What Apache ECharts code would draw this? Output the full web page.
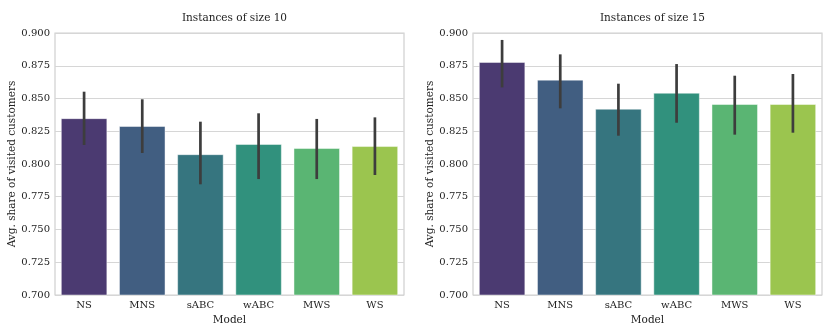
<!DOCTYPE html>
<html>
<head>
<meta charset="utf-8">
<script src="https://cdn.jsdelivr.net/npm/echarts@6/dist/echarts.min.js"></script>
<style>
  html, body { margin: 0; padding: 0; background: #fff; }
  #chart { width: 830px; height: 332px; }
</style>
</head>
<body>
<div id="chart"></div>
<script>
// 数据
var models = ['NS', 'MNS', 'sABC', 'wABC', 'MWS', 'WS'];
var titles = ['Instances of size 10', 'Instances of size 15'];
var yTicks = [0.700, 0.725, 0.750, 0.775, 0.800, 0.825, 0.850, 0.875, 0.900];
var barColors = ['#4b3a71', '#415e81', '#36757f', '#31917d', '#5ab573', '#9bc54f'];

// size 10
var mean10 = [0.835, 0.829, 0.8075, 0.8153, 0.8122, 0.8137];
var low10  = [0.8145, 0.8084, 0.7845, 0.7885, 0.7885, 0.7916];
var high10 = [0.8552, 0.8494, 0.8323, 0.8387, 0.8344, 0.8356];
// size 15
var mean15 = [0.8779, 0.8644, 0.8422, 0.8544, 0.8458, 0.8458];
var low15  = [0.8585, 0.8425, 0.8216, 0.8315, 0.8224, 0.8239];
var high15 = [0.8947, 0.8837, 0.8613, 0.8763, 0.8674, 0.8687];

var font = 'DejaVu Serif';
var textColor = '#222222';

var myChart = echarts.init(document.getElementById('chart'));

function errData(lo, hi) {
    return lo.map(function (v, i) { return [i, v, hi[i]]; });
}

function barData(vals) {
    return vals.map(function (v, i) {
        return { value: v, itemStyle: { color: barColors[i] } };
    });
}

var grids = [
    { left: 55, right: 426, top: 33, bottom: 37 },
    { left: 473, right: 8, top: 33, bottom: 37 }
];

var xAxes = [], yAxes = [], series = [], titleList = [];
var means = [mean10, mean15], lows = [low10, low15], highs = [high10, high15];

for (var g = 0; g < 2; g++) {
    titleList.push({
        text: titles[g],
        left: g == 0 ? 229.5 : 647.5,
        top: 8,
        textAlign: 'center',
        textStyle: { fontFamily: font, fontSize: 10.5, fontWeight: 'normal', color: textColor }
    });
    xAxes.push({
        type: 'category',
        gridIndex: g,
        data: models,
        name: 'Model',
        nameLocation: 'middle',
        nameGap: 15,
        nameTextStyle: { fontFamily: font, fontSize: 10.5, color: textColor },
        axisLine: { show: false },
        axisTick: { show: false },
        axisLabel: { fontFamily: font, fontSize: 10, color: textColor, margin: 5 }
    });
    yAxes.push({
        type: 'value',
        gridIndex: g,
        min: yTicks[0],
        max: yTicks[yTicks.length - 1],
        interval: 0.025,
        name: 'Avg. share of visited customers',
        nameLocation: 'middle',
        nameGap: 36,
        nameTextStyle: { fontFamily: font, fontSize: 10.5, color: textColor },
        axisLine: { show: false },
        axisTick: { show: false },
        axisLabel: {
            fontFamily: font, fontSize: 10, color: textColor, margin: 5,
            formatter: function (v) { return v.toFixed(3); }
        },
        splitLine: { lineStyle: { color: '#d6d6d6', width: 1 } }
    });
    series.push({
        type: 'bar',
        xAxisIndex: g,
        yAxisIndex: g,
        barWidth: '80%',
        data: barData(means[g]),
        itemStyle: { borderColor: 'rgba(255,255,255,0.45)', borderWidth: 1 },
        animation: false,
        z: 2
    });
    series.push({ // 误差线
        type: 'custom',
        xAxisIndex: g,
        yAxisIndex: g,
        data: errData(lows[g], highs[g]),
        encode: { x: 0, y: [1, 2] },
        renderItem: function (params, api) {
            var p1 = api.coord([api.value(0), api.value(1)]);
            var p2 = api.coord([api.value(0), api.value(2)]);
            return {
                type: 'line',
                shape: { x1: p1[0], y1: p1[1], x2: p2[0], y2: p2[1] },
                style: { stroke: '#3d3d3d', lineWidth: 2.7 }
            };
        },
        animation: false,
        z: 3
    });
}

myChart.setOption({
    backgroundColor: '#fff',
    animation: false,
    title: titleList,
    grid: grids.map(function (gr) {
        return Object.assign({ show: true, borderColor: '#cfcfcf', borderWidth: 1.2, backgroundColor: 'transparent' }, gr);
    }),
    xAxis: xAxes,
    yAxis: yAxes,
    series: series
});
</script>
</body>
</html>
